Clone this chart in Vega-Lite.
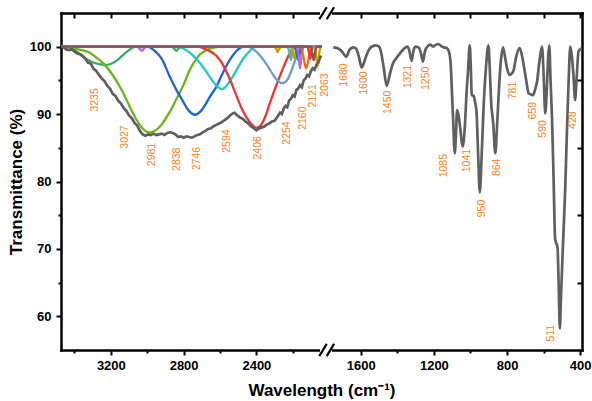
{
  "$schema": "https://vega.github.io/schema/vega-lite/v6.json",
  "width": 521,
  "height": 337,
  "autosize": {"type": "none"},
  "padding": {"left": 61, "top": 13, "right": 10, "bottom": 51},
  "config": {
    "view": {"stroke": null},
    "axis": {
      "grid": false,
      "domainColor": "#000000",
      "domainWidth": 2.5,
      "domainCap": "square",
      "tickColor": "#000000",
      "tickWidth": 2,
      "labelFont": "Liberation Sans",
      "labelFontWeight": "bold",
      "labelFontSize": 13,
      "labelColor": "#000000",
      "labelOverlap": false,
      "labelFlush": false,
      "titleFont": "Liberation Sans",
      "titleFontWeight": "bold",
      "titleFontSize": 17,
      "titleColor": "#000000"
    }
  },
  "datasets": {
    "spectrumHigh": [
      {"wn": 3474, "t": 100.0}, {"wn": 3460, "t": 99.9}, {"wn": 3445, "t": 99.6}, {"wn": 3430, "t": 99.5},
      {"wn": 3415, "t": 99.6}, {"wn": 3400, "t": 99.3}, {"wn": 3385, "t": 99.0}, {"wn": 3370, "t": 98.9},
      {"wn": 3355, "t": 98.6}, {"wn": 3340, "t": 98.2}, {"wn": 3325, "t": 97.6}, {"wn": 3310, "t": 97.5},
      {"wn": 3295, "t": 96.7}, {"wn": 3280, "t": 96.4}, {"wn": 3265, "t": 95.8}, {"wn": 3250, "t": 95.3},
      {"wn": 3235, "t": 94.9}, {"wn": 3220, "t": 94.2}, {"wn": 3205, "t": 93.8}, {"wn": 3190, "t": 93.0},
      {"wn": 3175, "t": 92.7}, {"wn": 3160, "t": 92.0}, {"wn": 3145, "t": 91.6}, {"wn": 3130, "t": 90.9},
      {"wn": 3115, "t": 90.5}, {"wn": 3100, "t": 89.8}, {"wn": 3085, "t": 89.4}, {"wn": 3070, "t": 88.7},
      {"wn": 3055, "t": 88.3}, {"wn": 3040, "t": 87.5}, {"wn": 3025, "t": 87.0}, {"wn": 3010, "t": 86.8},
      {"wn": 2995, "t": 87.0}, {"wn": 2980, "t": 86.9}, {"wn": 2965, "t": 87.1}, {"wn": 2950, "t": 86.9},
      {"wn": 2935, "t": 87.0}, {"wn": 2920, "t": 87.1}, {"wn": 2905, "t": 86.9}, {"wn": 2890, "t": 87.2},
      {"wn": 2875, "t": 87.3}, {"wn": 2860, "t": 87.2}, {"wn": 2845, "t": 87.0}, {"wn": 2830, "t": 86.6},
      {"wn": 2815, "t": 86.7}, {"wn": 2800, "t": 86.5}, {"wn": 2785, "t": 86.7}, {"wn": 2770, "t": 86.6},
      {"wn": 2755, "t": 86.5}, {"wn": 2740, "t": 86.7}, {"wn": 2725, "t": 86.9}, {"wn": 2710, "t": 87.0},
      {"wn": 2695, "t": 87.3}, {"wn": 2680, "t": 87.5}, {"wn": 2665, "t": 87.8}, {"wn": 2650, "t": 87.9},
      {"wn": 2635, "t": 88.2}, {"wn": 2620, "t": 88.4}, {"wn": 2605, "t": 88.6}, {"wn": 2590, "t": 88.8},
      {"wn": 2575, "t": 89.1}, {"wn": 2560, "t": 89.4}, {"wn": 2545, "t": 89.8}, {"wn": 2530, "t": 90.1},
      {"wn": 2520, "t": 90.2}, {"wn": 2505, "t": 89.8}, {"wn": 2490, "t": 89.5}, {"wn": 2475, "t": 89.3},
      {"wn": 2460, "t": 88.9}, {"wn": 2445, "t": 88.6}, {"wn": 2430, "t": 88.2}, {"wn": 2415, "t": 87.9},
      {"wn": 2400, "t": 87.6}, {"wn": 2390, "t": 87.8}, {"wn": 2375, "t": 88.0}, {"wn": 2360, "t": 88.1},
      {"wn": 2345, "t": 88.4}, {"wn": 2330, "t": 88.6}, {"wn": 2315, "t": 88.9}, {"wn": 2300, "t": 89.0},
      {"wn": 2290, "t": 89.4}, {"wn": 2280, "t": 89.8}, {"wn": 2270, "t": 90.2}, {"wn": 2260, "t": 90.0},
      {"wn": 2250, "t": 90.8}, {"wn": 2240, "t": 91.2}, {"wn": 2230, "t": 91.0}, {"wn": 2220, "t": 92.0},
      {"wn": 2210, "t": 92.3}, {"wn": 2200, "t": 92.8}, {"wn": 2190, "t": 92.6}, {"wn": 2180, "t": 93.6},
      {"wn": 2170, "t": 93.8}, {"wn": 2160, "t": 94.3}, {"wn": 2150, "t": 94.0}, {"wn": 2140, "t": 95.0},
      {"wn": 2130, "t": 95.3}, {"wn": 2120, "t": 95.8}, {"wn": 2110, "t": 95.6}, {"wn": 2100, "t": 96.4},
      {"wn": 2090, "t": 96.8}, {"wn": 2080, "t": 96.6}, {"wn": 2070, "t": 97.3}, {"wn": 2060, "t": 97.6},
      {"wn": 2045, "t": 98.7}
    ],
    "spectrumLow": [
      {"wn": 1750, "t": 99.9}, {"wn": 1720, "t": 99.7}, {"wn": 1700, "t": 99.2}, {"wn": 1680, "t": 98.5},
      {"wn": 1660, "t": 99.6}, {"wn": 1640, "t": 99.9}, {"wn": 1625, "t": 99.7}, {"wn": 1610, "t": 98.5},
      {"wn": 1595, "t": 96.9}, {"wn": 1580, "t": 97.8}, {"wn": 1565, "t": 99.0}, {"wn": 1545, "t": 99.9},
      {"wn": 1520, "t": 100.2}, {"wn": 1500, "t": 100.0}, {"wn": 1490, "t": 99.3}, {"wn": 1475, "t": 97.0},
      {"wn": 1458, "t": 94.2}, {"wn": 1440, "t": 96.0}, {"wn": 1427, "t": 97.3}, {"wn": 1400, "t": 98.5},
      {"wn": 1380, "t": 99.2}, {"wn": 1360, "t": 99.8}, {"wn": 1345, "t": 100.0}, {"wn": 1335, "t": 99.5},
      {"wn": 1322, "t": 97.9}, {"wn": 1310, "t": 99.6}, {"wn": 1300, "t": 100.0}, {"wn": 1285, "t": 99.9},
      {"wn": 1272, "t": 99.2}, {"wn": 1260, "t": 97.8}, {"wn": 1248, "t": 99.4}, {"wn": 1236, "t": 100.0},
      {"wn": 1220, "t": 100.3}, {"wn": 1205, "t": 100.0}, {"wn": 1195, "t": 100.2}, {"wn": 1175, "t": 100.4},
      {"wn": 1160, "t": 100.1}, {"wn": 1145, "t": 99.9}, {"wn": 1130, "t": 99.8}, {"wn": 1118, "t": 99.3},
      {"wn": 1109, "t": 97.8}, {"wn": 1100, "t": 92.5}, {"wn": 1095, "t": 89.4}, {"wn": 1086, "t": 84.2},
      {"wn": 1080, "t": 86.5}, {"wn": 1073, "t": 90.6}, {"wn": 1065, "t": 89.8}, {"wn": 1058, "t": 88.4},
      {"wn": 1042, "t": 85.2}, {"wn": 1030, "t": 88.5}, {"wn": 1022, "t": 92.8}, {"wn": 1012, "t": 97.0},
      {"wn": 1004, "t": 100.2}, {"wn": 997, "t": 96.0}, {"wn": 993, "t": 92.8}, {"wn": 982, "t": 92.7},
      {"wn": 975, "t": 91.8}, {"wn": 967, "t": 90.4}, {"wn": 958, "t": 84.0}, {"wn": 949, "t": 78.4},
      {"wn": 940, "t": 83.0}, {"wn": 927, "t": 91.8}, {"wn": 915, "t": 97.0}, {"wn": 902, "t": 100.2},
      {"wn": 894, "t": 96.5}, {"wn": 887, "t": 91.8}, {"wn": 876, "t": 88.8}, {"wn": 864, "t": 84.2},
      {"wn": 855, "t": 88.0}, {"wn": 846, "t": 92.8}, {"wn": 835, "t": 97.5}, {"wn": 822, "t": 99.9},
      {"wn": 810, "t": 98.3}, {"wn": 800, "t": 96.8}, {"wn": 786, "t": 95.8}, {"wn": 775, "t": 96.0},
      {"wn": 764, "t": 96.5}, {"wn": 750, "t": 98.5}, {"wn": 731, "t": 99.8}, {"wn": 720, "t": 98.9},
      {"wn": 709, "t": 97.3}, {"wn": 695, "t": 95.0}, {"wn": 682, "t": 93.1}, {"wn": 668, "t": 92.9},
      {"wn": 658, "t": 92.8}, {"wn": 648, "t": 93.5}, {"wn": 636, "t": 94.8}, {"wn": 622, "t": 98.0},
      {"wn": 609, "t": 100.0}, {"wn": 600, "t": 96.0}, {"wn": 591, "t": 90.1}, {"wn": 582, "t": 94.0},
      {"wn": 575, "t": 98.5}, {"wn": 569, "t": 100.2}, {"wn": 562, "t": 95.0}, {"wn": 554, "t": 89.4},
      {"wn": 545, "t": 80.0}, {"wn": 537, "t": 71.5}, {"wn": 530, "t": 70.8}, {"wn": 524, "t": 70.3},
      {"wn": 517, "t": 64.0}, {"wn": 511, "t": 58.2}, {"wn": 506, "t": 62.0}, {"wn": 495, "t": 70.0},
      {"wn": 482, "t": 78.7}, {"wn": 473, "t": 87.0}, {"wn": 463, "t": 95.0}, {"wn": 454, "t": 100.0},
      {"wn": 445, "t": 98.5}, {"wn": 436, "t": 95.5}, {"wn": 428, "t": 92.1}, {"wn": 420, "t": 95.0},
      {"wn": 409, "t": 99.3}, {"wn": 400, "t": 99.6}, {"wn": 391, "t": 99.8}
    ],
    "components": [
      {"id": "c01", "wn": 3474, "t": 100}, {"id": "c01", "wn": 3450, "t": 100}, {"id": "c01", "wn": 3420, "t": 99.8},
      {"id": "c01", "wn": 3390, "t": 99.3}, {"id": "c01", "wn": 3360, "t": 98.7}, {"id": "c01", "wn": 3330, "t": 98.1},
      {"id": "c01", "wn": 3300, "t": 97.7}, {"id": "c01", "wn": 3270, "t": 97.45}, {"id": "c01", "wn": 3240, "t": 97.3},
      {"id": "c01", "wn": 3220, "t": 97.3}, {"id": "c01", "wn": 3195, "t": 97.5}, {"id": "c01", "wn": 3170, "t": 97.9},
      {"id": "c01", "wn": 3140, "t": 98.6}, {"id": "c01", "wn": 3115, "t": 99.2}, {"id": "c01", "wn": 3090, "t": 99.7},
      {"id": "c01", "wn": 3060, "t": 100}, {"id": "c01", "wn": 2040, "t": 100},

      {"id": "c02", "wn": 3474, "t": 100}, {"id": "c02", "wn": 3060, "t": 100}, {"id": "c02", "wn": 3045, "t": 99.8},
      {"id": "c02", "wn": 3030, "t": 99.4}, {"id": "c02", "wn": 3015, "t": 99.8}, {"id": "c02", "wn": 3000, "t": 100},
      {"id": "c02", "wn": 2040, "t": 100},

      {"id": "c03", "wn": 3474, "t": 100}, {"id": "c03", "wn": 3430, "t": 99.9}, {"id": "c03", "wn": 3380, "t": 99.6},
      {"id": "c03", "wn": 3324, "t": 99.2}, {"id": "c03", "wn": 3280, "t": 98.4}, {"id": "c03", "wn": 3233, "t": 97.3},
      {"id": "c03", "wn": 3190, "t": 95.8}, {"id": "c03", "wn": 3141, "t": 93.6}, {"id": "c03", "wn": 3110, "t": 91.9},
      {"id": "c03", "wn": 3087, "t": 90.6}, {"id": "c03", "wn": 3060, "t": 89.2}, {"id": "c03", "wn": 3032, "t": 88.1},
      {"id": "c03", "wn": 3010, "t": 87.5}, {"id": "c03", "wn": 2986, "t": 87.3}, {"id": "c03", "wn": 2960, "t": 87.5},
      {"id": "c03", "wn": 2922, "t": 88.4}, {"id": "c03", "wn": 2895, "t": 89.5}, {"id": "c03", "wn": 2868, "t": 90.7},
      {"id": "c03", "wn": 2840, "t": 92.2}, {"id": "c03", "wn": 2813, "t": 93.6}, {"id": "c03", "wn": 2790, "t": 95.0},
      {"id": "c03", "wn": 2767, "t": 96.5}, {"id": "c03", "wn": 2740, "t": 97.8}, {"id": "c03", "wn": 2712, "t": 98.8},
      {"id": "c03", "wn": 2680, "t": 99.4}, {"id": "c03", "wn": 2658, "t": 99.7}, {"id": "c03", "wn": 2620, "t": 99.95},
      {"id": "c03", "wn": 2600, "t": 100}, {"id": "c03", "wn": 2040, "t": 100},

      {"id": "c04", "wn": 3474, "t": 100}, {"id": "c04", "wn": 2870, "t": 100}, {"id": "c04", "wn": 2855, "t": 99.8},
      {"id": "c04", "wn": 2840, "t": 99.4}, {"id": "c04", "wn": 2825, "t": 99.8}, {"id": "c04", "wn": 2810, "t": 100},
      {"id": "c04", "wn": 2040, "t": 100},

      {"id": "c05", "wn": 3474, "t": 100}, {"id": "c05", "wn": 3000, "t": 100}, {"id": "c05", "wn": 2980, "t": 99.8},
      {"id": "c05", "wn": 2960, "t": 99.4}, {"id": "c05", "wn": 2920, "t": 98.2}, {"id": "c05", "wn": 2877, "t": 95.6},
      {"id": "c05", "wn": 2840, "t": 93.6}, {"id": "c05", "wn": 2810, "t": 92.2}, {"id": "c05", "wn": 2780, "t": 90.8},
      {"id": "c05", "wn": 2760, "t": 90.2}, {"id": "c05", "wn": 2740, "t": 89.9}, {"id": "c05", "wn": 2720, "t": 90.1},
      {"id": "c05", "wn": 2700, "t": 90.6}, {"id": "c05", "wn": 2685, "t": 91.2}, {"id": "c05", "wn": 2655, "t": 92.6},
      {"id": "c05", "wn": 2621, "t": 94.0}, {"id": "c05", "wn": 2590, "t": 95.8}, {"id": "c05", "wn": 2566, "t": 97.1},
      {"id": "c05", "wn": 2540, "t": 98.3}, {"id": "c05", "wn": 2512, "t": 99.3}, {"id": "c05", "wn": 2490, "t": 99.8},
      {"id": "c05", "wn": 2475, "t": 100}, {"id": "c05", "wn": 2040, "t": 100},

      {"id": "c06", "wn": 3474, "t": 100}, {"id": "c06", "wn": 2830, "t": 100}, {"id": "c06", "wn": 2800, "t": 99.7},
      {"id": "c06", "wn": 2770, "t": 99.2}, {"id": "c06", "wn": 2749, "t": 98.7}, {"id": "c06", "wn": 2720, "t": 97.9},
      {"id": "c06", "wn": 2694, "t": 97.0}, {"id": "c06", "wn": 2665, "t": 95.9}, {"id": "c06", "wn": 2640, "t": 94.9},
      {"id": "c06", "wn": 2615, "t": 94.1}, {"id": "c06", "wn": 2593, "t": 93.7}, {"id": "c06", "wn": 2570, "t": 94.0},
      {"id": "c06", "wn": 2548, "t": 94.8}, {"id": "c06", "wn": 2520, "t": 96.0}, {"id": "c06", "wn": 2493, "t": 97.3},
      {"id": "c06", "wn": 2465, "t": 98.5}, {"id": "c06", "wn": 2438, "t": 99.3}, {"id": "c06", "wn": 2420, "t": 99.8},
      {"id": "c06", "wn": 2402, "t": 100}, {"id": "c06", "wn": 2040, "t": 100},

      {"id": "c07", "wn": 3474, "t": 100}, {"id": "c07", "wn": 2720, "t": 100}, {"id": "c07", "wn": 2694, "t": 99.8},
      {"id": "c07", "wn": 2660, "t": 99.4}, {"id": "c07", "wn": 2621, "t": 98.7}, {"id": "c07", "wn": 2590, "t": 97.6},
      {"id": "c07", "wn": 2566, "t": 96.4}, {"id": "c07", "wn": 2540, "t": 94.8}, {"id": "c07", "wn": 2512, "t": 92.9},
      {"id": "c07", "wn": 2485, "t": 91.1}, {"id": "c07", "wn": 2456, "t": 89.6}, {"id": "c07", "wn": 2430, "t": 88.6},
      {"id": "c07", "wn": 2410, "t": 88.1}, {"id": "c07", "wn": 2398, "t": 88.0}, {"id": "c07", "wn": 2380, "t": 88.2},
      {"id": "c07", "wn": 2365, "t": 88.8}, {"id": "c07", "wn": 2347, "t": 89.9}, {"id": "c07", "wn": 2325, "t": 91.7},
      {"id": "c07", "wn": 2301, "t": 93.5}, {"id": "c07", "wn": 2274, "t": 95.4}, {"id": "c07", "wn": 2246, "t": 97.3},
      {"id": "c07", "wn": 2219, "t": 98.9}, {"id": "c07", "wn": 2200, "t": 99.7}, {"id": "c07", "wn": 2185, "t": 100},
      {"id": "c07", "wn": 2040, "t": 100},

      {"id": "c08", "wn": 3474, "t": 100}, {"id": "c08", "wn": 2445, "t": 100}, {"id": "c08", "wn": 2420, "t": 99.7},
      {"id": "c08", "wn": 2390, "t": 99.0}, {"id": "c08", "wn": 2360, "t": 98.0}, {"id": "c08", "wn": 2330, "t": 96.8},
      {"id": "c08", "wn": 2300, "t": 95.5}, {"id": "c08", "wn": 2280, "t": 94.9}, {"id": "c08", "wn": 2262, "t": 94.6},
      {"id": "c08", "wn": 2245, "t": 94.7}, {"id": "c08", "wn": 2225, "t": 95.3}, {"id": "c08", "wn": 2205, "t": 96.6},
      {"id": "c08", "wn": 2190, "t": 97.8}, {"id": "c08", "wn": 2175, "t": 99.0}, {"id": "c08", "wn": 2160, "t": 99.8},
      {"id": "c08", "wn": 2150, "t": 100}, {"id": "c08", "wn": 2040, "t": 100},

      {"id": "c09", "wn": 2300, "t": 100}, {"id": "c09", "wn": 2290, "t": 99.6}, {"id": "c09", "wn": 2283, "t": 99.2},
      {"id": "c09", "wn": 2276, "t": 99.6}, {"id": "c09", "wn": 2266, "t": 100},

      {"id": "c10", "wn": 2230, "t": 100}, {"id": "c10", "wn": 2218, "t": 99.2}, {"id": "c10", "wn": 2210, "t": 98.0},
      {"id": "c10", "wn": 2202, "t": 99.2}, {"id": "c10", "wn": 2190, "t": 100},

      {"id": "c11", "wn": 2210, "t": 100}, {"id": "c11", "wn": 2200, "t": 99.2}, {"id": "c11", "wn": 2192, "t": 98.3},
      {"id": "c11", "wn": 2184, "t": 99.2}, {"id": "c11", "wn": 2174, "t": 100},

      {"id": "c12", "wn": 2188, "t": 100}, {"id": "c12", "wn": 2178, "t": 99.0}, {"id": "c12", "wn": 2170, "t": 98.0},
      {"id": "c12", "wn": 2162, "t": 99.0}, {"id": "c12", "wn": 2152, "t": 100},

      {"id": "c13", "wn": 2178, "t": 100}, {"id": "c13", "wn": 2168, "t": 98.6}, {"id": "c13", "wn": 2160, "t": 96.8},
      {"id": "c13", "wn": 2152, "t": 98.6}, {"id": "c13", "wn": 2142, "t": 100},

      {"id": "c14", "wn": 2155, "t": 100}, {"id": "c14", "wn": 2145, "t": 99.0}, {"id": "c14", "wn": 2135, "t": 97.6},
      {"id": "c14", "wn": 2126, "t": 96.8}, {"id": "c14", "wn": 2117, "t": 97.6}, {"id": "c14", "wn": 2108, "t": 99.0},
      {"id": "c14", "wn": 2098, "t": 100},

      {"id": "c15", "wn": 2118, "t": 100}, {"id": "c15", "wn": 2110, "t": 99.0}, {"id": "c15", "wn": 2104, "t": 98.2},
      {"id": "c15", "wn": 2098, "t": 99.0}, {"id": "c15", "wn": 2090, "t": 100},

      {"id": "c16", "wn": 2080, "t": 100}, {"id": "c16", "wn": 2072, "t": 98.8}, {"id": "c16", "wn": 2064, "t": 97.0},
      {"id": "c16", "wn": 2056, "t": 98.8}, {"id": "c16", "wn": 2048, "t": 100},

      {"id": "c17", "wn": 3474, "t": 100}, {"id": "c17", "wn": 2100, "t": 100}, {"id": "c17", "wn": 2092, "t": 99.0},
      {"id": "c17", "wn": 2085, "t": 98.0}, {"id": "c17", "wn": 2078, "t": 99.0}, {"id": "c17", "wn": 2070, "t": 100},
      {"id": "c17", "wn": 2040, "t": 100}
    ],
    "peakLabels": [
      {"lab": "3235", "wn": 3287, "t": 92.1},
      {"lab": "3027", "wn": 3122, "t": 86.6},
      {"lab": "2981", "wn": 2975, "t": 84.0},
      {"lab": "2838", "wn": 2838, "t": 83.3},
      {"lab": "2746", "wn": 2728, "t": 83.4},
      {"lab": "2594", "wn": 2563, "t": 86.0},
      {"lab": "2406", "wn": 2391, "t": 85.0},
      {"lab": "2254", "wn": 2232, "t": 87.2},
      {"lab": "2160", "wn": 2144, "t": 89.4},
      {"lab": "2121", "wn": 2089, "t": 92.7},
      {"lab": "2063", "wn": 2023, "t": 94.3},
      {"lab": "1680", "wn": 1690, "t": 95.8},
      {"lab": "1600", "wn": 1581, "t": 94.6},
      {"lab": "1450", "wn": 1449, "t": 91.75},
      {"lab": "1321", "wn": 1342, "t": 95.55},
      {"lab": "1250", "wn": 1243, "t": 95.3},
      {"lab": "1085", "wn": 1145, "t": 82.35},
      {"lab": "1041", "wn": 1019, "t": 83.1},
      {"lab": "950", "wn": 939, "t": 76.0},
      {"lab": "864", "wn": 855, "t": 82.1},
      {"lab": "781", "wn": 768, "t": 93.5},
      {"lab": "659", "wn": 658, "t": 90.5},
      {"lab": "590", "wn": 604, "t": 87.8},
      {"lab": "511", "wn": 561, "t": 57.5},
      {"lab": "428", "wn": 440, "t": 89.1}
    ],
    "breakGap": [
      {"wn": 2050, "wn2": 1758, "t": 104.5, "t2": 105.5},
      {"wn": 2050, "wn2": 1758, "t": 54.5, "t2": 55.5}
    ],
    "breakSlashes": [
      {"wn": 2054, "wn2": 1786, "t": 104.07, "t2": 105.85},
      {"wn": 1786, "wn2": 1746, "t": 104.07, "t2": 105.85},
      {"wn": 2054, "wn2": 1786, "t": 54.1, "t2": 55.9},
      {"wn": 1786, "wn2": 1746, "t": 54.1, "t2": 55.9}
    ]
  },
  "resolve": {"axis": {"x": "independent", "y": "independent"}},
  "layer": [
    {
      "data": {"name": "components"},
      "mark": {"type": "line", "interpolate": "monotone", "strokeWidth": 2.3},
      "encoding": {
        "x": {"field": "wn", "type": "quantitative", "axis": null,
              "scale": {"domain": [3474, 2020, 1790, 390], "range": [0, 264.5, 265, 521], "nice": false, "zero": false}},
        "y": {"field": "t", "type": "quantitative", "axis": null,
              "scale": {"domain": [55, 105], "nice": false, "zero": false}},
        "color": {"field": "id", "type": "nominal", "legend": null,
                  "scale": {"domain": ["c01","c02","c03","c04","c05","c06","c07","c08","c09","c10","c11","c12","c13","c14","c15","c16","c17"],
                            "range": ["#3aab6e","#b36ae2","#6cb31c","#3aab6e","#1f63d6","#22c7c9","#ec3535","#6b9bd6","#c9a100","#22c7c9","#c9a100","#1f63d6","#b36ae2","#f26b0c","#ec3535","#c9a100","#8a5252"]}},
        "order": {"field": "wn", "type": "quantitative", "sort": "descending"}
      }
    },
    {
      "data": {"name": "spectrumHigh"},
      "mark": {"type": "line", "color": "#5f5f5f", "strokeWidth": 2.7},
      "encoding": {
        "x": {"field": "wn", "type": "quantitative",
              "scale": {"domain": [3474, 2020, 1790, 390], "range": [0, 264.5, 265, 521], "nice": false, "zero": false},
              "axis": {"orient": "bottom", "title": "Wavelength (cm⁻¹)", "format": "d",
                       "values": [3400, 3200, 3000, 2800, 2600, 2400, 2200, 1600, 1400, 1200, 1000, 800, 600, 400],
                       "labelExpr": "datum.value % 400 === 0 ? datum.label : ''",
                       "tickSize": {"condition": {"test": "datum.value % 400 !== 0", "value": 3}, "value": 5},
                       "labelPadding": 4, "titlePadding": 10}},
        "y": {"field": "t", "type": "quantitative",
              "scale": {"domain": [55, 105], "nice": false, "zero": false},
              "axis": {"orient": "left", "title": "Transmittance (%)",
                       "values": [60, 65, 70, 75, 80, 85, 90, 95, 100],
                       "labelExpr": "datum.value % 10 === 0 ? datum.label : ''",
                       "tickSize": {"condition": {"test": "datum.value % 10 !== 0", "value": 3}, "value": 5},
                       "labelPadding": 5, "titlePadding": 4}},
        "order": {"field": "wn", "type": "quantitative", "sort": "descending"}
      }
    },
    {
      "data": {"name": "spectrumLow"},
      "mark": {"type": "line", "color": "#5f5f5f", "strokeWidth": 2.7, "interpolate": "monotone"},
      "encoding": {
        "x": {"field": "wn", "type": "quantitative",
              "scale": {"domain": [3474, 2020, 1790, 390], "range": [0, 264.5, 265, 521], "nice": false, "zero": false},
              "axis": {"orient": "top", "title": null, "labels": false,
                       "values": [3400, 3200, 3000, 2800, 2600, 2400, 2200, 1600, 1400, 1200, 1000, 800, 600, 400],
                       "tickSize": -5}},
        "y": {"field": "t", "type": "quantitative",
              "scale": {"domain": [55, 105], "nice": false, "zero": false},
              "axis": {"orient": "right", "title": null, "labels": false,
                       "values": [65, 75, 85, 95], "tickSize": -5}},
        "order": {"field": "wn", "type": "quantitative", "sort": "descending"}
      }
    },
    {
      "data": {"name": "peakLabels"},
      "mark": {"type": "text", "angle": 270, "font": "Liberation Sans", "fontSize": 10.5, "color": "#f5821f", "align": "center", "baseline": "middle"},
      "encoding": {
        "x": {"field": "wn", "type": "quantitative", "axis": null,
              "scale": {"domain": [3474, 2020, 1790, 390], "range": [0, 264.5, 265, 521], "nice": false, "zero": false}},
        "y": {"field": "t", "type": "quantitative", "axis": null,
              "scale": {"domain": [55, 105], "nice": false, "zero": false}},
        "text": {"field": "lab", "type": "nominal"}
      }
    },
    {
      "data": {"name": "breakGap"},
      "mark": {"type": "rect", "color": "#ffffff"},
      "encoding": {
        "x": {"field": "wn", "type": "quantitative", "axis": null,
              "scale": {"domain": [3474, 2020, 1790, 390], "range": [0, 264.5, 265, 521], "nice": false, "zero": false}},
        "x2": {"field": "wn2"},
        "y": {"field": "t", "type": "quantitative", "axis": null,
              "scale": {"domain": [55, 105], "nice": false, "zero": false}},
        "y2": {"field": "t2"}
      }
    },
    {
      "data": {"name": "breakSlashes"},
      "mark": {"type": "rule", "color": "#000000", "strokeWidth": 2.2},
      "encoding": {
        "x": {"field": "wn", "type": "quantitative", "axis": null,
              "scale": {"domain": [3474, 2020, 1790, 390], "range": [0, 264.5, 265, 521], "nice": false, "zero": false}},
        "x2": {"field": "wn2"},
        "y": {"field": "t", "type": "quantitative", "axis": null,
              "scale": {"domain": [55, 105], "nice": false, "zero": false}},
        "y2": {"field": "t2"}
      }
    }
  ]
}
